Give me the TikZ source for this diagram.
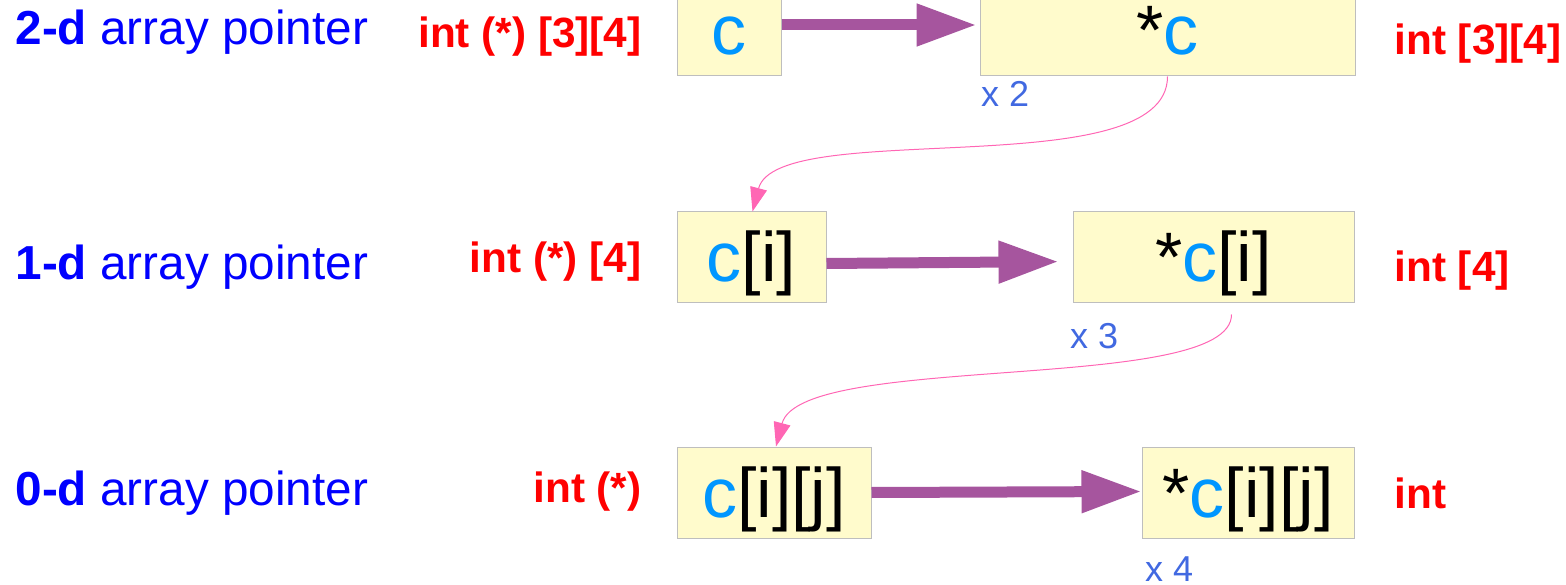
\documentclass[tikz,border=0pt]{standalone}
\usepackage{fontspec}
\setmainfont{Liberation Sans}
\usetikzlibrary{arrows.meta}
\definecolor{rowblue}{RGB}{0,0,255}
\definecolor{typered}{RGB}{255,0,0}
\definecolor{varblue}{RGB}{0,150,255}
\definecolor{cellfill}{RGB}{255,251,204}
\definecolor{cellline}{RGB}{190,190,190}
\definecolor{derefpurple}{RGB}{166,85,158}
\definecolor{linkpink}{RGB}{255,102,180}
\definecolor{countblue}{RGB}{65,105,225}
\newcommand{\cv}{\textcolor{varblue}{c}}
\begin{document}
\begin{tikzpicture}[x=1pt,y=-1pt,
    cell/.style={draw=cellline, line width=1pt, fill=cellfill, inner sep=0pt,
        minimum height=91pt, text height=49pt, text depth=0pt,
        font=\fontsize{70}{84}\selectfont},
    rowlabel/.style={anchor=base west, text=rowblue, font=\fontsize{47.7}{57}\selectfont},
    typelabel/.style={text=typered, font=\fontsize{42.3}{50}\selectfont\bfseries},
    count/.style={anchor=base west, text=countblue, font=\fontsize{36}{43}\selectfont},
    deref/.style={draw=derefpurple, line width=11pt, -{Triangle[length=60pt,width=40pt]}},
    link/.style={draw=linkpink, line width=1pt, -{Triangle[length=24pt,width=17pt]}}]
    \useasboundingbox (0,0) rectangle (1566,585);
    % rows
    \foreach \d/\y in {2/45,1/280,0/505}
        \node[rowlabel] (row\d) at (12,\y) {\textbf{\d-d} array pointer};
    % pointer types
    \node[typelabel, anchor=base east] (ptrA) at (645,48) {int (*) [3][4]};
    \node[typelabel, anchor=base east] (ptrB) at (645,273) {int (*) [4]};
    \node[typelabel, anchor=base east] (ptrC) at (645,502) {int (*)};
    \node[typelabel, anchor=base west] (valA) at (1391,55) {int [3][4]};
    \node[typelabel, anchor=base west] (valB) at (1391,282) {int [4]};
    \node[typelabel, anchor=base west] (valC) at (1391,508) {int};
    % cells
    \node[cell, minimum width=104pt] (cA) at (729,30.5) {\cv};
    \node[cell, minimum width=375pt] (cB) at (1167.5,30.5) {*\cv};
    \node[cell, minimum width=149pt] (ciA) at (751.5,257.5) {\cv[i]};
    \node[cell, minimum width=281pt] (ciB) at (1213.5,257.5) {*\cv[i]};
    \node[cell, minimum width=194pt] (cijA) at (774,492.5) {\cv[i][j]};
    \node[cell, minimum width=212pt] (cijB) at (1248,492.5) {*\cv[i][j]};
    % counts
    \node[count] (nB) at ([xshift=-2pt,yshift=-30pt]cB.south west) {x 2};
    \node[count] (niB) at ([xshift=-6pt,yshift=-45pt]ciB.south west) {x 3};
    \node[count] (nijB) at ([xshift=0pt,yshift=-43pt]cijB.south west) {x 4};
    % dereference
    \draw[deref, shorten >=3pt] ([yshift=5.5pt]cA.east) -- ([yshift=5.5pt]cB.west);
    \draw[deref, shorten >=14pt] ([yshift=-6pt]ciA.east) -- ([yshift=-4pt]ciB.west);
    \draw[deref] (cijA.east) -- ([yshift=1pt]cijB.west);
    % next level
    \draw[link] (cB.south) .. controls +(0,110) and +(25,-95) .. ([xshift=1pt]ciA.north);
    \draw[link] ([xshift=18pt,yshift=-11pt]ciB.south) .. controls +(0,80) and +(25,-95) .. ([xshift=2pt]cijA.north);
\end{tikzpicture}
\end{document}
